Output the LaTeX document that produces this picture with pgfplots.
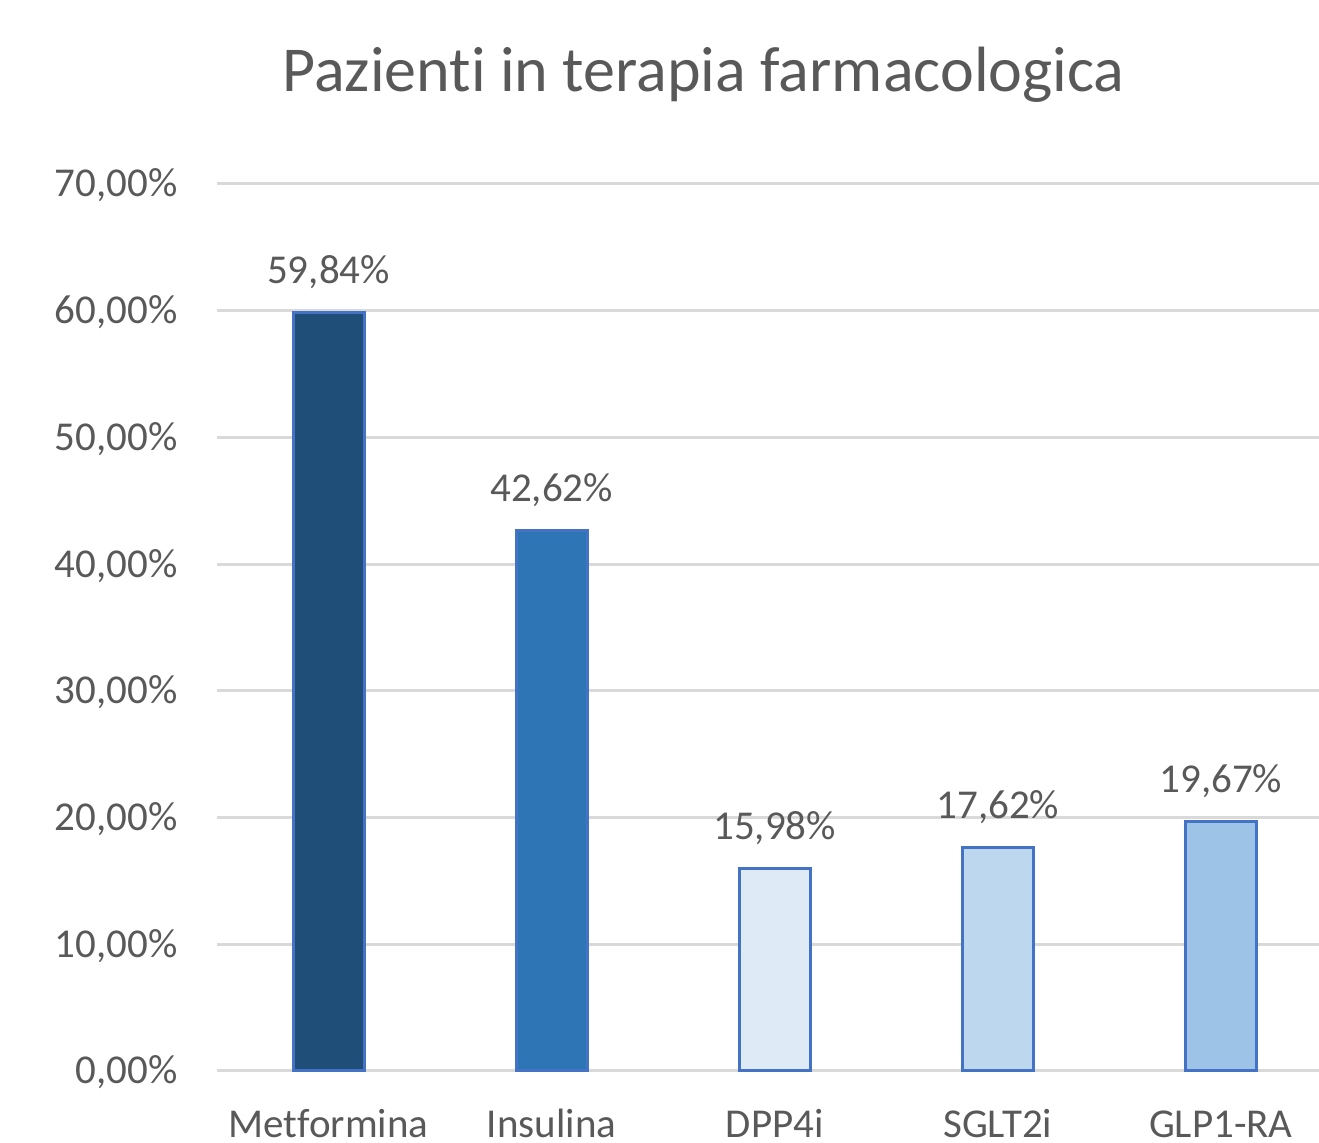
\documentclass[border=0pt]{standalone}
\usepackage{pgfplots}
\pgfplotsset{compat=1.18}
\usepackage{fontspec}
\setmainfont{Carlito}[Ligatures=NoCommon]
\definecolor{txt}{HTML}{595959}
\definecolor{gridc}{HTML}{D9D9D9}
\definecolor{edge}{HTML}{4472C4}
\definecolor{cA}{HTML}{1F4E79}
\definecolor{cB}{HTML}{2E75B6}
\definecolor{cC}{HTML}{DEEBF7}
\definecolor{cD}{HTML}{BDD7EE}
\definecolor{cE}{HTML}{9DC3E6}
\begin{document}
\begin{tikzpicture}
\useasboundingbox (-108.5pt,-36pt) rectangle (551pt,535.5pt);
\begin{axis}[
  at={(0,0)}, anchor=south west,
  scale only axis, width=551pt, height=443.5pt,
  xmin=-0.5, xmax=4.44, ymin=0, ymax=70,
  axis line style={draw=none},
  major tick length=0pt,
  ytick={0,10,...,70},
  xmajorgrids=false, ymajorgrids=true,
  major grid style={draw=gridc, line width=1.5pt},
  xtick={0,1,2,3,4},
  xticklabels={Metformina,Insulina,DPP4i,SGLT2i,GLP1-RA},
  /pgf/number format/assume math mode=true,
  yticklabel={\pgfmathprintnumber[fixed,fixed zerofill,precision=2,use comma]{\tick}\%},
  yticklabel style={font=\fontsize{20.5pt}{24pt}\selectfont, text=txt, inner sep=0pt, anchor=base east, xshift=-19.5pt, yshift=-6.5pt},
  xticklabel style={font=\fontsize{20.5pt}{24pt}\selectfont, text=txt, inner sep=0pt, anchor=base, yshift=-33.5pt},
  ybar, bar width=0.318, bar shift=0pt,
  every axis plot/.append style={draw=edge, line width=1.5pt},
  nodes near coords={\pgfmathprintnumber[fixed,fixed zerofill,precision=2,use comma]{\pgfplotspointmeta}\%},
  every node near coord/.append style={font=\fontsize{20.5pt}{24pt}\selectfont, text=txt, inner sep=0pt, anchor=base, yshift=14.5pt},
  clip=false,
]
\addplot[fill=cA] coordinates {(0,59.84)};
\addplot[fill=cB] coordinates {(1,42.62)};
\addplot[fill=cC] coordinates {(2,15.98)};
\addplot[fill=cD] coordinates {(3,17.62)};
\addplot[fill=cE] coordinates {(4,19.67)};
\end{axis}
\node[anchor=base, text=txt, font=\fontsize{32pt}{38pt}\selectfont, inner sep=0pt] at (243.25pt,489.5pt) {Pazienti in terapia farmacologica};
\end{tikzpicture}
\end{document}
